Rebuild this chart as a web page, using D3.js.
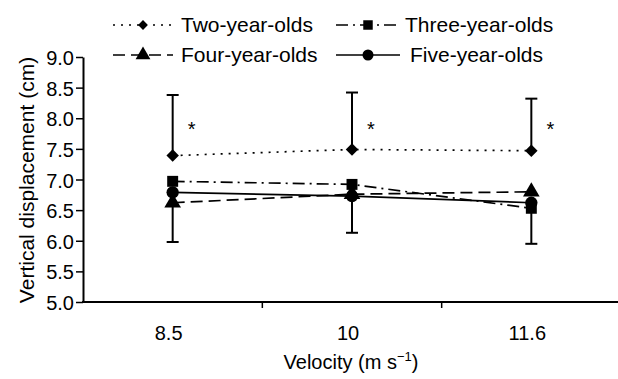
<!DOCTYPE html>
<html>
<head>
<meta charset="utf-8">
<script src="https://cdn.jsdelivr.net/npm/d3@7"></script>
<style>
  body { margin: 0; background: #fff; }
  svg { font-family: "Liberation Sans", Arial, sans-serif; }
</style>
</head>
<body>
<svg width="618" height="379"></svg>
<script>
// velocities
var categories = ["8.5", "10", "11.6"];

// mean vertical displacement (cm)
var twoYear = [7.39, 7.49, 7.47];
var threeYear = [6.97, 6.92, 6.53];
var fourYear = [6.62, 6.76, 6.80];
var fiveYear = [6.79, 6.73, 6.62];

// error bar ends
var errTop = [8.38, 8.42, 8.32];
var errBottom = [5.98, 6.13, 5.95];

var yTicks = [5.0, 5.5, 6.0, 6.5, 7.0, 7.5, 8.0, 8.5, 9.0];

// diamond = square turned 45 degrees
var series = [
  { name: "Two-year-olds", values: twoYear, dash: "2,6", symbol: d3.symbolSquare, rot: 45, size: 78, lsize: 48 },
  { name: "Three-year-olds", values: threeYear, dash: "12,5,2,5", symbol: d3.symbolSquare, rot: 0, size: 120, lsize: 90 },
  { name: "Four-year-olds", values: fourYear, dash: "12,6", symbol: d3.symbolTriangle, rot: 0, size: 120, lsize: 95 },
  { name: "Five-year-olds", values: fiveYear, dash: null, symbol: d3.symbolCircle, rot: 0, size: 120, lsize: 95 }
];

var svg = d3.select("svg");

var x = d3.scaleBand().domain(categories).range([83, 621]);
var y = d3.scaleLinear().domain([5, 9]).range([302, 57]);

function cx(i) { return x(categories[i]) + x.bandwidth() / 2; }

// y axis
var yAxis = svg.append("g")
  .attr("transform", "translate(83,0)")
  .call(d3.axisLeft(y).tickValues(yTicks).tickFormat(d3.format(".1f")).tickSize(7).tickSizeOuter(0));
yAxis.select(".domain").attr("stroke-width", 2);
yAxis.selectAll(".tick line").attr("stroke-width", 1.5);
yAxis.selectAll(".tick text").attr("font-size", 20).attr("fill", "#000").attr("x", -9).attr("dy", "0.38em");
yAxis.attr("font-family", null);

// x axis
svg.append("line")
  .attr("x1", 82).attr("x2", 618)
  .attr("y1", y(5)).attr("y2", y(5))
  .attr("stroke", "#000").attr("stroke-width", 2);

// boundary ticks between bands
svg.selectAll(".btick")
  .data(categories.slice(1))
  .enter().append("line")
  .attr("x1", function(d) { return x(d); })
  .attr("x2", function(d) { return x(d); })
  .attr("y1", y(5)).attr("y2", y(5) + 6)
  .attr("stroke", "#000").attr("stroke-width", 1.5);

svg.selectAll(".xlab")
  .data(categories)
  .enter().append("text")
  .attr("x", function(d, i) { return cx(i) - 4; })
  .attr("y", 340)
  .attr("text-anchor", "middle")
  .attr("font-size", 20)
  .text(function(d) { return d; });

// axis titles
var xt = svg.append("text")
  .attr("x", 351).attr("y", 369)
  .attr("text-anchor", "middle")
  .attr("font-size", 20);
xt.append("tspan").text("Velocity (m s");
xt.append("tspan").attr("font-size", 13).attr("dy", -8).text("\u22121");
xt.append("tspan").attr("dy", 8).text(")");

svg.append("text")
  .attr("transform", "translate(34,180) rotate(-90)")
  .attr("text-anchor", "middle")
  .attr("font-size", 21)
  .text("Vertical displacement (cm)");

// error bars
var eb = svg.append("g").attr("stroke", "#000").attr("stroke-width", 2);
categories.forEach(function(c, i) {
  var low = Math.min(threeYear[i], fourYear[i], fiveYear[i]);
  eb.append("line").attr("x1", cx(i)).attr("x2", cx(i)).attr("y1", y(twoYear[i])).attr("y2", y(errTop[i]));
  eb.append("line").attr("x1", cx(i) - 6).attr("x2", cx(i) + 6).attr("y1", y(errTop[i])).attr("y2", y(errTop[i]));
  eb.append("line").attr("x1", cx(i)).attr("x2", cx(i)).attr("y1", y(low)).attr("y2", y(errBottom[i]));
  eb.append("line").attr("x1", cx(i) - 6).attr("x2", cx(i) + 6).attr("y1", y(errBottom[i])).attr("y2", y(errBottom[i]));
});

// significance stars
svg.selectAll(".star")
  .data(categories)
  .enter().append("text")
  .attr("x", function(d, i) { return cx(i) + 19; })
  .attr("y", y(7.85) + 9)
  .attr("text-anchor", "middle")
  .attr("font-size", 20)
  .text("*");

// lines
var line = d3.line()
  .x(function(d, i) { return cx(i); })
  .y(function(d) { return y(d); });

series.forEach(function(s) {
  svg.append("path")
    .datum(s.values)
    .attr("d", line)
    .attr("fill", "none")
    .attr("stroke", "#000")
    .attr("stroke-width", 1.7)
    .attr("stroke-dasharray", s.dash);
});

// markers (draw lower series first so two-year diamonds sit on top)
[3, 2, 1, 0].forEach(function(k) {
  var s = series[k];
  svg.selectAll(".m" + k)
    .data(s.values)
    .enter().append("path")
    .attr("d", d3.symbol().type(s.symbol).size(s.size))
    .attr("transform", function(d, i) { return "translate(" + cx(i) + "," + y(d) + ") rotate(" + s.rot + ")"; })
    .attr("fill", "#000");
});

// legend
var legendPos = [
  { x0: 113, x1: 173, tx: 181, ty: 25 },
  { x0: 336, x1: 400, tx: 405, ty: 25 },
  { x0: 113, x1: 173, tx: 181, ty: 55 },
  { x0: 336, x1: 400, tx: 410, ty: 55 }
];
series.forEach(function(s, k) {
  var p = legendPos[k];
  var g = svg.append("g");
  g.append("line")
    .attr("x1", p.x0).attr("x2", p.x1)
    .attr("y1", p.ty).attr("y2", p.ty)
    .attr("stroke", "#000").attr("stroke-width", 1.7)
    .attr("stroke-dasharray", s.dash);
  g.append("path")
    .attr("d", d3.symbol().type(s.symbol).size(s.lsize))
    .attr("transform", "translate(" + (p.x0 + p.x1) / 2 + "," + p.ty + ") rotate(" + s.rot + ")")
    .attr("fill", "#000");
  g.append("text")
    .attr("x", p.tx).attr("y", p.ty)
    .attr("dy", "0.35em")
    .attr("font-size", 21)
    .text(s.name);
});
</script>
</body>
</html>
